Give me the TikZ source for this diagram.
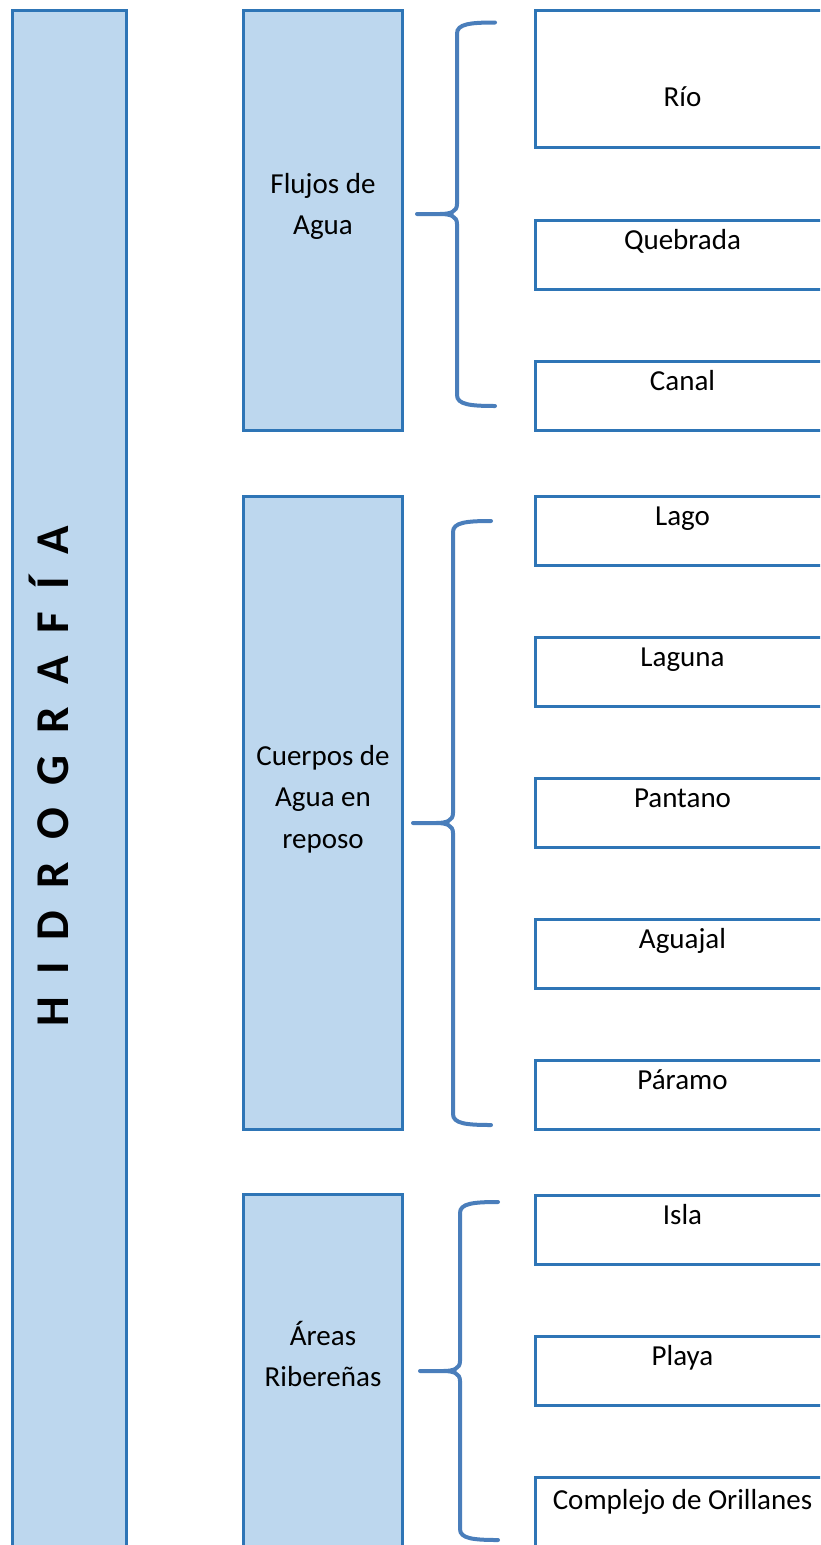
\documentclass[tikz,border=0pt]{standalone}
\usepackage{fontspec}
\setmainfont{Carlito}
\newfontfamily\titulo[WordSpace=2.1]{Carlito}

\definecolor{borde}{HTML}{2E75B6}
\definecolor{relleno}{HTML}{BDD7EE}
\definecolor{llaveazul}{HTML}{4A7EBB}

\tikzset{
  raiz/.style={draw=borde, fill=relleno, line width=3pt, anchor=north west, inner sep=0pt, outer sep=0pt},
  grupo/.style={draw=borde, fill=relleno, line width=3pt, anchor=north west, minimum width=159pt, inner sep=0pt, outer sep=0pt},
  hoja/.style={draw=borde, line width=3pt, anchor=north west, minimum width=294pt, minimum height=69pt,
    inner sep=0pt, outer sep=0pt, text height=20pt, text depth=31pt, font=\fontsize{29}{41.5}\selectfont},
  texto/.style={align=center, inner sep=0pt, font=\fontsize{29}{41.5}\selectfont},
  llave/.style={draw=llaveazul, line width=4pt, line cap=round}
}

% llave: x del trazo vertical, y arriba, y punta, y abajo
\newcommand{\llave}[4]{%
  \draw[llave] (#1+38,#2) .. controls (#1+13,#2) and (#1,#2+1.5) .. (#1,#2+11)
    -- (#1,#3-10) .. controls (#1,#3-2) and (#1-7,#3) .. (#1-17,#3) -- (#1-40,#3)
    (#1-17,#3) .. controls (#1-7,#3) and (#1,#3+2) .. (#1,#3+10)
    -- (#1,#4-11) .. controls (#1,#4-1.5) and (#1+13,#4) .. (#1+38,#4);}

\begin{document}
\begin{tikzpicture}[x=1pt,y=-1pt]
\useasboundingbox (0,0) rectangle (820,1545);
\clip (0,0) rectangle (820,1545);

% columna principal
\node[raiz, minimum width=114pt, minimum height=1560pt] (hidro) at (12.5,10.5) {};
\node[rotate=90, anchor=base, inner sep=0pt, font=\titulo\bfseries\fontsize{47}{50}\selectfont] (hidro-t) at (68,776.5) {H I D R O G R A F Í A};

% grupos
\node[grupo, minimum height=420pt] (flujos) at (243.5,10.5) {};
\node[texto] (flujos-t) at ([yshift=14pt]flujos.center) {Flujos de\\Agua};
\node[grupo, minimum height=633pt] (cuerpos) at (243.5,496) {};
\node[texto] (cuerpos-t) at ([yshift=13.5pt]cuerpos.center) {Cuerpos de\\Agua en\\reposo};
\node[grupo, minimum height=353pt] (areas) at (243.5,1194.5) {};
\node[texto] (areas-t) at ([yshift=17pt]areas.center) {Áreas\\Ribereñas};

% llaves
\llave{457}{22.5}{214}{406}
\llave{453}{521}{823}{1125}
\llave{460}{1202}{1371}{1540}

% hojas
\node[hoja, minimum height=136.5pt, text height=56pt, text depth=0pt] (rio) at (535.5,10.5) {Río};
\node[hoja] (quebrada) at (535.5,220) {Quebrada};
\node[hoja] (canal) at (535.5,361) {Canal};
\node[hoja] (lago) at (535.5,496) {Lago};
\node[hoja] (laguna) at (535.5,637) {Laguna};
\node[hoja] (pantano) at (535.5,778) {Pantano};
\node[hoja] (aguajal) at (535.5,919) {Aguajal};
\node[hoja] (paramo) at (535.5,1060) {Páramo};
\node[hoja] (isla) at (535.5,1195) {Isla};
\node[hoja] (playa) at (535.5,1336) {Playa};
\node[hoja, minimum height=75pt] (orillanes) at (535.5,1477) {Complejo de Orillanes};
\end{tikzpicture}
\end{document}
